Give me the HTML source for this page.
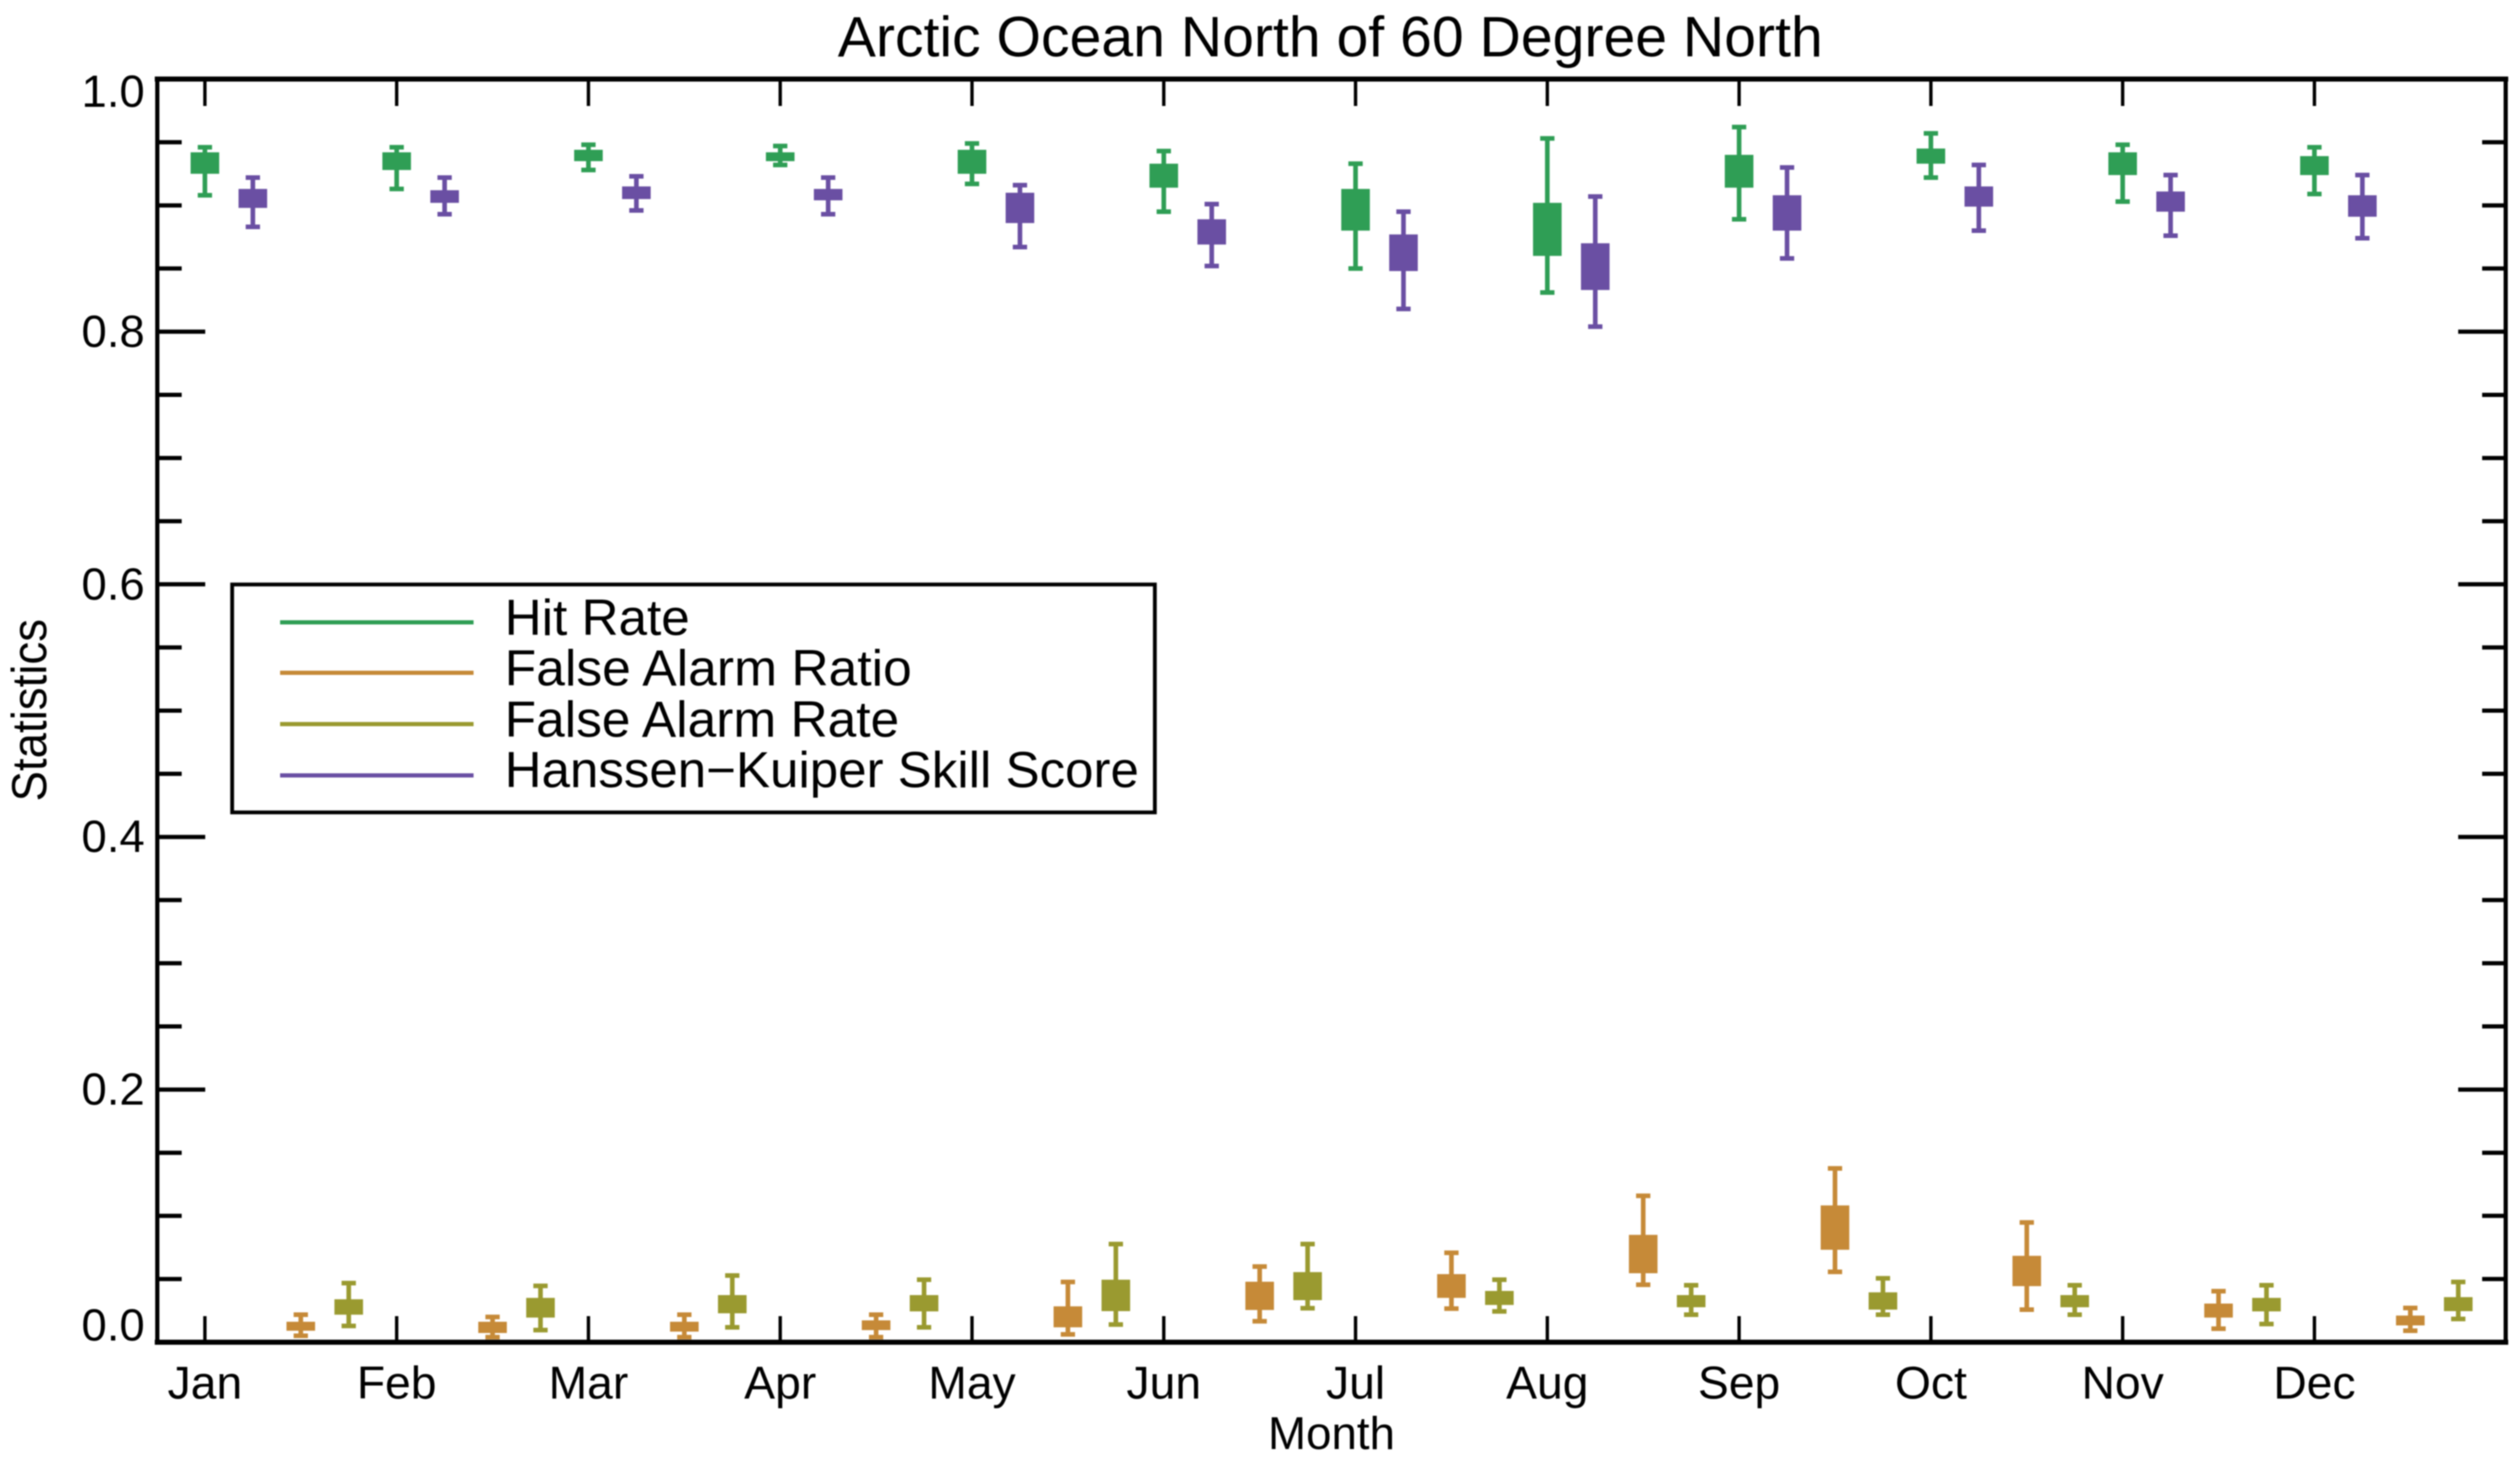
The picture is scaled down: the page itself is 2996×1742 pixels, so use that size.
<!DOCTYPE html>
<html>
<head>
<meta charset="utf-8">
<title>Arctic Ocean North of 60 Degree North</title>
<style>
html,body{margin:0;padding:0;background:#fff;}
svg{display:block;filter:blur(0.9px);}
text{font-family:"Liberation Sans",sans-serif;fill:#000;}
</style>
</head>
<body>
<svg id="chart" width="2996" height="1742" viewBox="0 0 2996 1742" xmlns="http://www.w3.org/2000/svg">
  <rect x="0" y="0" width="2996" height="1742" fill="#fff"/>
  <text x="1581.5" y="67" font-size="68" text-anchor="middle" textLength="1171" lengthAdjust="spacingAndGlyphs">Arctic Ocean North of 60 Degree North</text>
  <text x="1583" y="1723" font-size="55" text-anchor="middle" textLength="151" lengthAdjust="spacingAndGlyphs">Month</text>
  <text transform="translate(55,844.5) rotate(-90)" x="0" y="0" font-size="58" text-anchor="middle" textLength="217" lengthAdjust="spacingAndGlyphs">Statistics</text>
  <g id="ticks"></g>
  <g id="series"></g>
  <g id="frame">
    <line x1="184" x2="2982" y1="94" y2="94" stroke="#000" stroke-width="6"/>
    <line x1="184" x2="2982" y1="1596" y2="1596" stroke="#000" stroke-width="6"/>
    <line x1="187" x2="187" y1="91" y2="1599" stroke="#000" stroke-width="5"/>
    <line x1="2979" x2="2979" y1="91" y2="1599" stroke="#000" stroke-width="5"/>
  </g>
  <g id="legend">
    <rect x="276" y="695" width="1097" height="271" fill="#fff" stroke="#000" stroke-width="4.5"/>
    <line x1="333" x2="563" y1="740" y2="740" stroke="#2f9e55" stroke-width="5"/>
    <text x="600" y="755" font-size="60" textLength="220" lengthAdjust="spacingAndGlyphs">Hit Rate</text>
    <line x1="333" x2="563" y1="800" y2="800" stroke="#c68a38" stroke-width="5"/>
    <text x="600" y="815" font-size="60" textLength="484" lengthAdjust="spacingAndGlyphs">False Alarm Ratio</text>
    <line x1="333" x2="563" y1="861" y2="861" stroke="#9a9a30" stroke-width="5"/>
    <text x="600" y="876" font-size="60" textLength="469" lengthAdjust="spacingAndGlyphs">False Alarm Rate</text>
    <line x1="333" x2="563" y1="922" y2="922" stroke="#6a4fa3" stroke-width="5"/>
    <text x="600" y="936" font-size="60" textLength="754" lengthAdjust="spacingAndGlyphs">Hanssen−Kuiper Skill Score</text>
  </g>
</svg>
<script>
const months = ["Jan","Feb","Mar","Apr","May","Jun","Jul","Aug","Sep","Oct","Nov","Dec"];
const yMajorTicks = [0,0.2,0.4,0.6,0.8,1.0];
const yMinorTicks = [0.05,0.1,0.15,0.25,0.3,0.35,0.45,0.5,0.55,0.65,0.7,0.75,0.85,0.9,0.95];

const hitHigh = [.946,.946,.948,.947,.949,.943,.933,.953,.962,.957,.948,.946];
const hitQ3   = [.942,.942,.944,.942,.944,.933,.913,.902,.940,.945,.942,.939];
const hitQ1   = [.925,.928,.935,.935,.925,.914,.880,.860,.914,.933,.924,.924];
const hitLow  = [.908,.913,.928,.932,.917,.895,.850,.831,.889,.922,.903,.909];

const skillHigh = [.922,.922,.923,.922,.916,.901,.895,.907,.930,.932,.924,.924];
const skillQ3   = [.913,.912,.915,.913,.910,.889,.877,.870,.908,.915,.911,.908];
const skillQ1   = [.898,.902,.905,.904,.886,.869,.848,.833,.880,.899,.895,.891];
const skillLow  = [.883,.893,.896,.893,.867,.852,.818,.804,.858,.880,.876,.874];

const ratioHigh = [.0218,.0200,.0218,.0218,.0477,.0599,.0708,.1159,.1376,.0948,.0404,.0271];
const ratioQ3   = [.0162,.0162,.0162,.0173,.0284,.0479,.0539,.0850,.1083,.0684,.0306,.0211];
const ratioQ1   = [.0091,.0073,.0084,.0096,.0118,.0255,.0351,.0546,.0732,.0444,.0195,.0133];
const ratioLow  = [.0051,.0040,.0040,.0040,.0062,.0166,.0266,.0455,.0557,.0258,.0107,.0091];

const rateHigh = [.0468,.0446,.0528,.0495,.0777,.0777,.0495,.0451,.0506,.0451,.0451,.0477];
const rateQ3   = [.0340,.0351,.0373,.0373,.0495,.0555,.0406,.0373,.0395,.0373,.0351,.0357];
const rateQ1   = [.0218,.0195,.0229,.0244,.0246,.0333,.0295,.0277,.0258,.0277,.0244,.0246];
const rateLow  = [.0129,.0096,.0118,.0118,.0140,.0269,.0244,.0218,.0218,.0218,.0144,.0184];

const seriesNames = ["hit-rate","skill-score","false-alarm-ratio","false-alarm-rate"];
const seriesColors = ["#2f9e55","#6a4fa3","#c68a38","#9a9a30"];
const seriesOffsets = [0,0.25,0.5,0.75];
const seriesHigh = [hitHigh,skillHigh,ratioHigh,rateHigh];
const seriesQ3 = [hitQ3,skillQ3,ratioQ3,rateQ3];
const seriesQ1 = [hitQ1,skillQ1,ratioQ1,rateQ1];
const seriesLow = [hitLow,skillLow,ratioLow,rateLow];

const NS = "http://www.w3.org/2000/svg";
const xScale = function(m){ return 243.6 + 228 * m; };
const yScale = function(v){ return 1596 - 1502 * v; };

function mk(tag, parent, attrs){
  const el = document.createElementNS(NS, tag);
  for (const k in attrs) el.setAttribute(k, attrs[k]);
  parent.appendChild(el);
  return el;
}

const ticksG = document.getElementById("ticks");
const seriesG = document.getElementById("series");

months.forEach(function(label, i){
  const x = xScale(i);
  const t1 = mk("line", ticksG, {x1:x,x2:x,y1:94,y2:126,stroke:"#000","stroke-width":4});
  
  
  const t2 = mk("line", ticksG, {x1:x,x2:x,y1:1565,y2:1596,stroke:"#000","stroke-width":4});
  
  
  const t = mk("text", ticksG, {x:x,y:1663,"font-size":55,"text-anchor":"middle"});
  t.textContent = label;
  
  
});

yMajorTicks.forEach(function(v){
  const y = yScale(v);
  const a = mk("line", ticksG, {x1:187,x2:244,y1:y,y2:y,stroke:"#000","stroke-width":5});
  
  
  const b = mk("line", ticksG, {x1:2922.5,x2:2979,y1:y,y2:y,stroke:"#000","stroke-width":5});
  
  
  const dy = v === 0 ? -2 : (v === 1 ? 33 : 18);
  const t = mk("text", ticksG, {x:172,y:y+dy,"font-size":54,"text-anchor":"end"});
  t.textContent = v.toFixed(1);
  
  
});

yMinorTicks.forEach(function(v){
  const y = yScale(v);
  const a = mk("line", ticksG, {x1:187,x2:216,y1:y,y2:y,stroke:"#000","stroke-width":5});
  
  
  const b = mk("line", ticksG, {x1:2951,x2:2979,y1:y,y2:y,stroke:"#000","stroke-width":5});
  
  
});

seriesNames.forEach(function(name, s){
  const color = seriesColors[s];
  months.forEach(function(month, i){
    const x = xScale(i + seriesOffsets[s]);
    const yHi = yScale(seriesHigh[s][i]);
    const yQ3 = yScale(seriesQ3[s][i]);
    const yQ1 = yScale(seriesQ1[s][i]);
    const yLo = yScale(seriesLow[s][i]);
    const stem = mk("line", seriesG, {x1:x,x2:x,y1:yHi,y2:yLo,stroke:color,"stroke-width":5.5});
    
    
    const capTop = mk("rect", seriesG, {x:x-8.5,y:yHi-2.75,width:17,height:5.5,fill:color});
    
    
    const capBot = mk("rect", seriesG, {x:x-8.5,y:yLo-2.75,width:17,height:5.5,fill:color});
    
    
    const box = mk("rect", seriesG, {x:x-17,y:yQ3,width:34,height:yQ1-yQ3,fill:color});
    
    
  });
});
</script>
</body>
</html>
